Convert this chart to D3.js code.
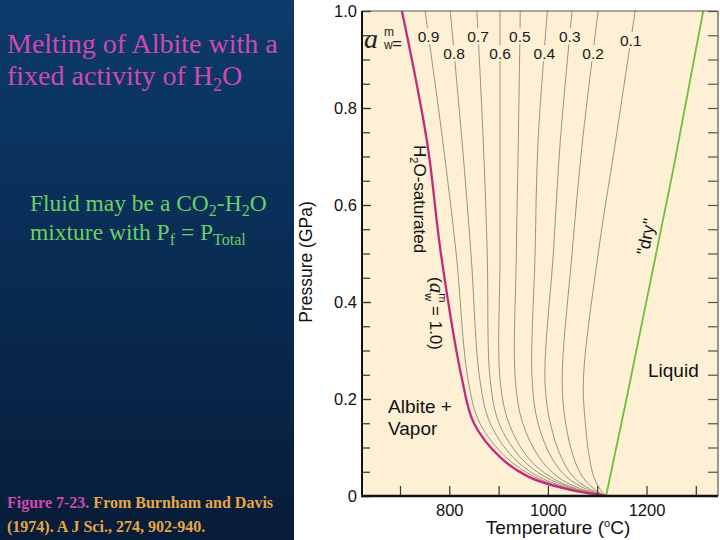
<!DOCTYPE html>
<html><head><meta charset="utf-8">
<script src="https://cdn.jsdelivr.net/npm/d3@7"></script>
<style>html,body{margin:0;padding:0;background:#fff;} svg{display:block}</style>
</head><body>
<svg id="c" width="720" height="540"></svg>
<script>
// ---- data ----
const pressureGPa = [1.0, 0.73, 0.5, 0.24, 0.15, 0.08, 0.04, 0.015, 0];
const waterActivities = [1.0, 0.9, 0.8, 0.7, 0.6, 0.5, 0.4, 0.3, 0.2, 0.1];
const solidus_aw10 = [704, 755, 783, 826, 850, 903, 960, 1035, 1118];
const solidus_aw09 = [751, 787, 814, 838, 862, 915, 972, 1041, 1118];
const solidus_aw08 = [802, 826, 844, 862, 883, 929, 981, 1047, 1118];
const solidus_aw07 = [856, 869, 877, 883, 901, 944, 993, 1053, 1118];
const solidus_aw06 = [903, 903, 903, 903, 921, 959, 1004, 1058, 1118];
const solidus_aw05 = [944, 940, 936, 934, 949, 982, 1019, 1066, 1118];
const solidus_aw04 = [999, 980, 974, 968, 980, 1007, 1037, 1076, 1118];
const solidus_aw03 = [1049, 1025, 1011, 994, 1005, 1027, 1051, 1084, 1118];
const solidus_aw02 = [1102, 1070, 1049, 1029, 1036, 1052, 1070, 1093, 1118];
const solidus_aw01 = [1177, 1137, 1102, 1072, 1076, 1084, 1093, 1105, 1118];
const drySolidusP = [0, 0.198, 0.672, 1.0];
const drySolidusT = [1118, 1159, 1254, 1315];
const xTickValues = [700, 800, 900, 1000, 1100, 1200, 1300];
const xTickLabels = ["", "800", "", "1000", "", "1200", ""];
const yMajorTicks = [0, 0.2, 0.4, 0.6, 0.8, 1.0];
const yTickLabels = ["0", "0.2", "0.4", "0.6", "0.8", "1.0"];
const yMinorTicks = [0, 0.05, 0.1, 0.15, 0.2, 0.25, 0.3, 0.35, 0.4, 0.45, 0.5, 0.55, 0.6, 0.65, 0.7, 0.75, 0.8, 0.85, 0.9, 0.95, 1.0];
const activityLabels = ["0.9", "0.8", "0.7", "0.6", "0.5", "0.4", "0.3", "0.2", "0.1"];

const curves = [solidus_aw10, solidus_aw09, solidus_aw08, solidus_aw07, solidus_aw06,
                solidus_aw05, solidus_aw04, solidus_aw03, solidus_aw02, solidus_aw01];

// ---- layout ----
const svg = d3.select("#c");
const L = 362, R = 718, T = 11, B = 496;
const x = d3.scaleLinear().domain([623, 1345]).range([L, R]);
const y = d3.scaleLinear().domain([0, 1]).range([B, T]);
const sans = "'Liberation Sans', Arial, Helvetica, sans-serif";
const serif = "'Liberation Serif', 'Times New Roman', Times, serif";

const defs = svg.append("defs");
const grad = defs.append("linearGradient").attr("id", "bg").attr("x1", 0).attr("y1", 0).attr("x2", 0).attr("y2", 1);
grad.append("stop").attr("offset", "0%").attr("stop-color", "#0c3b6c");
grad.append("stop").attr("offset", "55%").attr("stop-color", "#092a50");
grad.append("stop").attr("offset", "100%").attr("stop-color", "#071c38");
defs.append("clipPath").attr("id", "plotclip").append("rect")
  .attr("x", L).attr("y", T - 2).attr("width", R - L).attr("height", B - T + 2);

svg.append("rect").attr("x", 0).attr("y", 0).attr("width", 720).attr("height", 540).attr("fill", "#ffffff");
svg.append("rect").attr("x", 0).attr("y", 0).attr("width", 294).attr("height", 540).attr("fill", "url(#bg)");
svg.append("rect").attr("x", L).attr("y", T).attr("width", R - L).attr("height", B - T).attr("fill", "#fdf0d5");

// ---- curves ----
const g = svg.append("g").attr("clip-path", "url(#plotclip)");
const line = d3.line().x(d => x(d[0])).y(d => y(d[1])).curve(d3.curveCatmullRom.alpha(0.5));

curves.forEach((temps, i) => {
  if (i === 0) return;
  g.append("path").datum(temps.map((t, j) => [t, pressureGPa[j]]))
    .attr("d", line).attr("fill", "none").attr("stroke", "#8f8672").attr("stroke-width", 0.9);
});
g.append("path").datum(solidus_aw10.map((t, j) => [t, pressureGPa[j]]))
  .attr("d", line).attr("fill", "none").attr("stroke", "#c8287c").attr("stroke-width", 2.3);
g.append("path").datum(drySolidusT.map((t, j) => [t, drySolidusP[j]]))
  .attr("d", d3.line().x(d => x(d[0])).y(d => y(d[1]))).attr("fill", "none")
  .attr("stroke", "#70bf3c").attr("stroke-width", 1.8);

// activity labels centred on their curves
curves.slice(1).forEach((temps, i) => {
  const row = (i % 2 === 0) ? 0.948 : 0.913;
  const p = (i === 8) ? 0.94 : row;
  const interp = d3.scaleLinear().domain(pressureGPa.slice(0, 3)).range(temps.slice(0, 3));
  const cx = x(interp(p)), cy = y(p);
  svg.append("rect").attr("x", cx - 12).attr("y", cy - 8).attr("width", 24).attr("height", 16).attr("fill", "#fdf0d5");
  svg.append("text").attr("x", cx).attr("y", cy + 5.5).attr("text-anchor", "middle")
    .attr("font-family", sans).attr("font-size", 15.5).attr("fill", "#1a1a1a").text(activityLabels[i]);
});

// ---- axes ----
const axL = svg.append("g").attr("transform", `translate(${L},0)`)
  .call(d3.axisLeft(y).tickValues(yMinorTicks).tickSize(-8).tickFormat(""));
const axL2 = svg.append("g").attr("transform", `translate(${L},0)`)
  .call(d3.axisLeft(y).tickValues(yMajorTicks).tickSizeInner(-9).tickSizeOuter(0).tickPadding(5)
    .tickFormat((d, i) => yTickLabels[i]));
const axR = svg.append("g").attr("transform", `translate(${R},0)`)
  .call(d3.axisRight(y).tickValues(yMinorTicks).tickSize(-10).tickFormat(""));
const axB = svg.append("g").attr("transform", `translate(0,${B})`)
  .call(d3.axisBottom(x).tickValues(xTickValues).tickSizeInner(-10).tickSizeOuter(0).tickPadding(8)
    .tickFormat((d, i) => xTickLabels[i]));
[axL, axL2, axR, axB].forEach(a => {
  a.select(".domain").remove();
  a.selectAll(".tick line").attr("stroke", "#333").attr("stroke-width", 1.2);
  a.selectAll("text").attr("font-family", sans).attr("font-size", 16.5).attr("fill", "#111");
});
axR.selectAll(".tick line").attr("stroke", "#555");

// frame
svg.append("line").attr("x1", L).attr("x2", R).attr("y1", T).attr("y2", T).attr("stroke", "#555").attr("stroke-width", 1.2);
svg.append("line").attr("x1", R).attr("x2", R).attr("y1", T).attr("y2", B).attr("stroke", "#777").attr("stroke-width", 1.5);
svg.append("line").attr("x1", L).attr("x2", L).attr("y1", T).attr("y2", B + 1).attr("stroke", "#111").attr("stroke-width", 2);
svg.append("line").attr("x1", L - 1).attr("x2", R).attr("y1", B).attr("y2", B).attr("stroke", "#111").attr("stroke-width", 2.5);

// axis titles
svg.append("text").attr("transform", "translate(312,262) rotate(-90)").attr("text-anchor", "middle")
  .attr("font-family", sans).attr("font-size", 17.5).attr("fill", "#111").text("Pressure (GPa)");
const xt = svg.append("text").attr("x", 558).attr("y", 534).attr("text-anchor", "middle")
  .attr("font-family", sans).attr("font-size", 19).attr("fill", "#111");
xt.append("tspan").text("Temperature (");
xt.append("tspan").attr("font-size", 11).attr("dy", -7).text("o");
xt.append("tspan").attr("dy", 7).text("C)");

// a^m_w =
svg.append("text").attr("x", 364).attr("y", 48).attr("font-family", serif).attr("font-style", "italic")
  .attr("font-size", 28).attr("fill", "#222").text("a");
svg.append("text").attr("x", 384).attr("y", 36).attr("font-family", sans).attr("font-size", 12).attr("fill", "#222").text("m");
svg.append("text").attr("x", 384).attr("y", 49).attr("font-family", sans).attr("font-size", 12).attr("fill", "#222").text("w");
svg.append("text").attr("x", 392).attr("y", 49).attr("font-family", sans).attr("font-size", 17).attr("fill", "#222").text("=");

// H2O-saturated label
const hs = svg.append("g").attr("transform", "translate(414,145) rotate(90)");
const t1 = hs.append("text").attr("x", 0).attr("y", 0).attr("font-family", sans).attr("font-size", 17).attr("fill", "#111");
t1.append("tspan").text("H");
t1.append("tspan").attr("font-size", 11).attr("dy", 4).text("2");
t1.append("tspan").attr("dy", -4).text("O-saturated");
const t2 = hs.append("text").attr("x", 132).attr("y", -16).attr("font-family", sans).attr("font-size", 17).attr("fill", "#111");
t2.append("tspan").text("(");
t2.append("tspan").attr("font-family", serif).attr("font-style", "italic").attr("font-size", 21).text("a");
t2.append("tspan").attr("font-size", 11).attr("dy", -9).text("m");
t2.append("tspan").attr("font-size", 11).attr("dx", -9).attr("dy", 14).text("w");
t2.append("tspan").attr("dy", -5).text(" = 1.0)");

// dry label
svg.append("text").attr("transform", "translate(652,238) rotate(-78.5)").attr("text-anchor", "middle")
  .attr("font-family", sans).attr("font-size", 17.5).attr("fill", "#111").text("\"dry\"");

// field labels
svg.append("text").attr("x", 648).attr("y", 377).attr("font-family", sans).attr("font-size", 19).attr("fill", "#111").text("Liquid");
svg.append("text").attr("x", 388).attr("y", 413).attr("font-family", sans).attr("font-size", 19).attr("fill", "#111").text("Albite +");
svg.append("text").attr("x", 388).attr("y", 435).attr("font-family", sans).attr("font-size", 19).attr("fill", "#111").text("Vapor");

// ---- left panel text ----
const mag = "#d04aae";
svg.append("text").attr("x", 7).attr("y", 53).attr("font-family", serif).attr("font-size", 28).attr("fill", mag)
  .text("Melting of Albite with a");
const l2 = svg.append("text").attr("x", 7).attr("y", 85).attr("font-family", serif).attr("font-size", 28).attr("fill", mag);
l2.append("tspan").text("fixed activity of H");
l2.append("tspan").attr("font-size", 18).attr("dy", 6).text("2");
l2.append("tspan").attr("dy", -6).text("O");

const grn = "#6ccf62";
const g1 = svg.append("text").attr("x", 30).attr("y", 211).attr("font-family", serif).attr("font-size", 23.5).attr("fill", grn);
g1.append("tspan").text("Fluid may be a CO");
g1.append("tspan").attr("font-size", 16).attr("dy", 5).text("2");
g1.append("tspan").attr("dy", -5).text("-H");
g1.append("tspan").attr("font-size", 16).attr("dy", 5).text("2");
g1.append("tspan").attr("dy", -5).text("O");
const g2 = svg.append("text").attr("x", 30).attr("y", 240).attr("font-family", serif).attr("font-size", 23.5).attr("fill", grn);
g2.append("tspan").text("mixture with P");
g2.append("tspan").attr("font-size", 16).attr("dy", 5).text("f");
g2.append("tspan").attr("dy", -5).text(" = P");
g2.append("tspan").attr("font-size", 16).attr("dy", 5).text("Total");

const gold = "#e6a646";
const c1 = svg.append("text").attr("x", 7).attr("y", 508).attr("font-family", serif).attr("font-size", 16).attr("font-weight", "bold");
c1.append("tspan").attr("fill", mag).text("Figure 7-23. ");
c1.append("tspan").attr("fill", gold).text("From Burnham and Davis");
svg.append("text").attr("x", 7).attr("y", 532).attr("font-family", serif).attr("font-size", 16).attr("font-weight", "bold")
  .attr("fill", gold).text("(1974). A J Sci., 274, 902-940.");
</script>
</body></html>
